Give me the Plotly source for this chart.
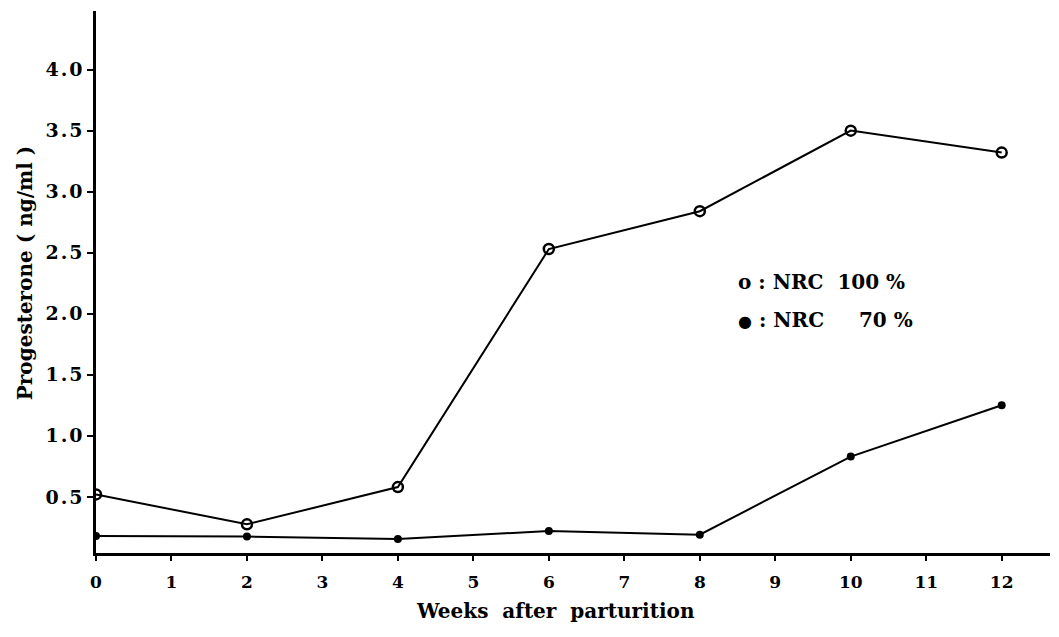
import plotly.graph_objects as go

weeks = [0, 2, 4, 6, 8, 10, 12]
nrc100 = [0.52, 0.275, 0.58, 2.53, 2.84, 3.50, 3.32]
nrc70 = [0.18, 0.175, 0.155, 0.22, 0.19, 0.83, 1.25]

x_ticks = list(range(0, 13))
y_ticks = [0.5, 1.0, 1.5, 2.0, 2.5, 3.0, 3.5, 4.0]
y_tick_text = ["0.5", "1.0", "1.5", "2.0", "2.5", "3.0", "3.5", "4.0"]

FONT = "DejaVu Serif"

fig = go.Figure()
fig.add_trace(go.Scatter(
    x=weeks, y=nrc100, mode="lines+markers",
    line=dict(color="black", width=2),
    marker=dict(symbol="circle-open", size=10, color="black", line=dict(width=2.5, color="black")),
    showlegend=False,
))
fig.add_trace(go.Scatter(
    x=weeks, y=nrc70, mode="lines+markers",
    line=dict(color="black", width=2),
    marker=dict(symbol="circle", size=8, color="black"),
    showlegend=False,
))

# legend as text
fig.add_annotation(x=0.671, y=0.500, xref="paper", yref="paper", xanchor="left", yanchor="middle",
                   text="<b>o : NRC&nbsp; 100 %</b>", showarrow=False,
                   font=dict(family=FONT, size=20, color="black"))
fig.add_annotation(x=0.671, y=0.430, xref="paper", yref="paper", xanchor="left", yanchor="middle",
                   text="<b><span style='font-size:16px'>●</span> : NRC&nbsp;&nbsp;&nbsp;&nbsp; 70 %</b>",
                   showarrow=False, font=dict(family=FONT, size=20, color="black"))

# axis titles
fig.add_annotation(x=0.482, y=-0.107, xref="paper", yref="paper", xanchor="center", yanchor="middle",
                   text="<b>Weeks&nbsp; after&nbsp; parturition</b>", showarrow=False,
                   font=dict(family=FONT, size=20, color="black"))
fig.add_annotation(x=-0.075, y=0.517, xref="paper", yref="paper", xanchor="center", yanchor="middle",
                   text="<b>Progesterone ( ng/ml )</b>", showarrow=False, textangle=-90,
                   font=dict(family=FONT, size=20, color="black"))

fig.update_layout(
    width=1051, height=629,
    margin=dict(l=88, r=9, t=3, b=84),
    paper_bgcolor="white", plot_bgcolor="white",
    font=dict(family=FONT, color="black"),
    xaxis=dict(
        range=[0, 12.64], tickvals=x_ticks, ticktext=["<b>%d</b>" % v for v in x_ticks],
        ticks="outside", ticklen=5, tickwidth=1.5,
        tickcolor="black", showline=True, linecolor="black", linewidth=2.5,
        showgrid=False, zeroline=False, automargin=False,
        tickfont=dict(family=FONT, size=17, color="black"), ticklabelstandoff=7,
    ),
    yaxis=dict(
        range=[0.04, 4.48], tickvals=y_ticks,
        ticktext=["<b>%s</b>" % t.replace(".", "\u200a.\u200a") for t in y_tick_text],
        ticks="outside", ticklen=6, tickwidth=1.5, tickcolor="black",
        showline=True, linecolor="black", linewidth=2.5, showgrid=False, zeroline=False,
        automargin=False,
        tickfont=dict(family=FONT, size=19, color="black"), ticklabelstandoff=1,
    ),
)

fig.write_html("out.html")
